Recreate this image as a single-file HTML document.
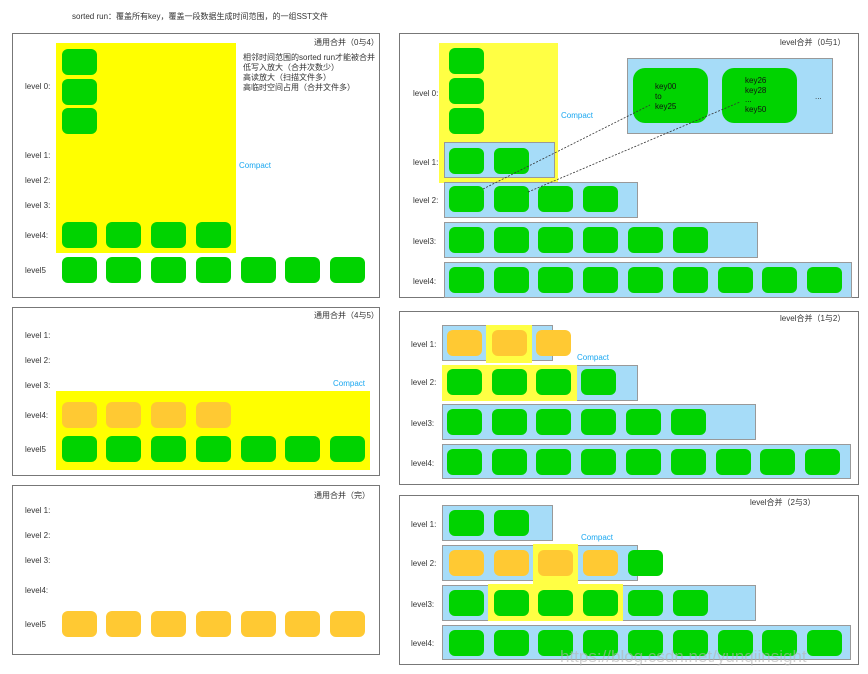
<!DOCTYPE html>
<html><head><meta charset="utf-8">
<style>
body{margin:0;width:868px;height:674px;background:#fff;position:relative;overflow:hidden;font-family:"Liberation Sans","Noto Sans CJK SC",sans-serif;}
div{position:absolute;box-sizing:border-box;}
.panel{border:1px solid #777;background:#fff;}
.y{background:#ffff00;}
.y2{background:#ffff44;}
.b{background:#a6dcf8;border:1px solid #999;}
.g{background:#00d300;border-radius:6px;width:35px;height:26px;}
.o{background:#ffc933;border-radius:6px;width:35px;height:26px;}
.t{font-size:8px;color:#333;white-space:nowrap;line-height:10px;}
.c{font-size:8px;color:#1aa7f0;white-space:nowrap;}
</style></head><body>
<div class="t" style="left:72px;top:12px;">sorted run：覆盖所有key，覆盖一段数据生成时间范围，的一组SST文件</div>

<div class="panel" style="left:12px;top:33px;width:368px;height:265px;"></div>
<div class="y" style="left:56px;top:43px;width:180px;height:210px;"></div>
<div class="t" style="left:314px;top:38px;">通用合并（0与4）</div>
<div class="t" style="left:243px;top:53px;line-height:10px;">相邻时间范围的sorted run才能被合并<br>低写入放大（合并次数少）<br>高读放大（扫描文件多）<br>高临时空间占用（合并文件多）</div>
<div class="c" style="left:239px;top:161px;">Compact</div>

<div class="panel" style="left:12px;top:307px;width:368px;height:169px;"></div>
<div class="y" style="left:56px;top:391px;width:314px;height:79px;"></div>
<div class="t" style="left:314px;top:311px;">通用合并（4与5）</div>
<div class="c" style="left:333px;top:379px;">Compact</div>

<div class="panel" style="left:12px;top:485px;width:368px;height:170px;"></div>
<div class="t" style="left:314px;top:491px;">通用合并（完）</div>

<div class="panel" style="left:399px;top:33px;width:460px;height:265px;"></div>
<div class="y2" style="left:439px;top:43px;width:119px;height:140px;"></div>
<div class="t" style="left:780px;top:38px;">level合并（0与1）</div>
<div class="c" style="left:561px;top:111px;">Compact</div>
<div class="b" style="left:627px;top:58px;width:206px;height:76px;"></div>
<div class="g" style="left:633px;top:68px;width:75px;height:55px;border-radius:12px;"></div>
<div class="g" style="left:722px;top:68px;width:75px;height:55px;border-radius:12px;"></div>
<div class="t" style="left:655px;top:82px;color:#111;">key00<br>to<br>key25</div>
<div class="t" style="left:745px;top:76px;color:#111;line-height:9.5px;">key26<br>key28<br>...<br>key50</div>
<div class="t" style="left:815px;top:92px;">...</div>

<div class="panel" style="left:399px;top:311px;width:460px;height:174px;"></div>
<div class="t" style="left:780px;top:314px;">level合并（1与2）</div>
<div class="panel" style="left:399px;top:495px;width:460px;height:170px;"></div>
<div class="t" style="left:750px;top:498px;">level合并（2与3）</div>

<svg style="position:absolute;left:0;top:0;z-index:5" width="868" height="674">
<line x1="483" y1="189" x2="650" y2="105" stroke="#333" stroke-width="0.8" stroke-dasharray="2,1.5"/>
<line x1="528" y1="192" x2="740" y2="102" stroke="#333" stroke-width="0.8" stroke-dasharray="2,1.5"/>
</svg>

<div class="t" style="left:560px;top:652px;font-size:17px;color:rgba(180,180,180,0.6);z-index:6;">https://blog.csdn.net/yunqiinsight</div>

<script>
const blues=[
[444,142,111,36],[444,182,194,36],[444,222,314,36],[444,262,408,36],
[442,325,111,36],[442,365,196,36],[442,404,314,36],[442,444,409,35],
[442,505,111,36],[442,545,196,36],[442,585,314,36],[442,625,409,35]];
const yellowsAfter=[[486,325,46,38],[442,365,135,36],[533,544,45,40],[488,584,135,37]];
const levelLabels=[
[25,82,"level 0:"],[25,151,"level 1:"],[25,176,"level 2:"],[25,201,"level 3:"],[25,231,"level4:"],[25,266,"level5"],
[25,331,"level 1:"],[25,356,"level 2:"],[25,381,"level 3:"],[25,411,"level4:"],[25,445,"level5"],
[25,506,"level 1:"],[25,531,"level 2:"],[25,556,"level 3:"],[25,586,"level4:"],[25,620,"level5"],
[413,89,"level 0:"],[413,158,"level 1:"],[413,196,"level 2:"],[413,237,"level3:"],[413,277,"level4:"],
[411,340,"level 1:"],[411,378,"level 2:"],[411,419,"level3:"],[411,459,"level4:"],
[411,520,"level 1:"],[411,559,"level 2:"],[411,600,"level3:"],[411,639,"level4:"]];
const LX=[62,106,151,196,241,285,330];
const RX=[449,494,538,583,628,673,718,762,807];
const boxes=[];
function row(xs,y,n,cls){for(let i=0;i<n;i++)boxes.push([xs[i],y,cls]);}
[49,79,108].forEach(y=>boxes.push([62,y,'g']));
row(LX,222,4,'g');row(LX,257,7,'g');
row(LX,402,4,'o');row(LX,436,7,'g');
row(LX,611,7,'o');
[48,78,108].forEach(y=>boxes.push([449,y,'g']));
row(RX,148,2,'g');row(RX,186,4,'g');row(RX,227,6,'g');row(RX,267,9,'g');
row(RX.map(x=>x-2),330,3,'o');row(RX.map(x=>x-2),369,4,'g');row(RX.map(x=>x-2),409,6,'g');row(RX.map(x=>x-2),449,9,'g');
row(RX,510,2,'g');row(RX,550,4,'o');boxes.push([628,550,'g']);row(RX,590,6,'g');row(RX,630,9,'g');

blues.forEach(b=>{const d=document.createElement('div');d.className='b';
d.style.cssText=`left:${b[0]}px;top:${b[1]}px;width:${b[2]}px;height:${b[3]}px;`;


document.body.appendChild(d);});
yellowsAfter.forEach(b=>{const d=document.createElement('div');d.className='y2';
d.style.cssText=`left:${b[0]}px;top:${b[1]}px;width:${b[2]}px;height:${b[3]}px;`;


document.body.appendChild(d);});
boxes.forEach(b=>{const d=document.createElement('div');d.className=b[2];
d.style.cssText=`left:${b[0]}px;top:${b[1]}px;`;


document.body.appendChild(d);});
levelLabels.forEach(l=>{const d=document.createElement('div');d.className='t';
d.style.cssText=`left:${l[0]}px;top:${l[1]}px;`;d.textContent=l[2];


document.body.appendChild(d);});
[[577,353],[581,533]].forEach(p=>{const d=document.createElement('div');d.className='c';
d.style.cssText=`left:${p[0]}px;top:${p[1]}px;`;d.textContent='Compact';


document.body.appendChild(d);});
</script>
</body></html>
